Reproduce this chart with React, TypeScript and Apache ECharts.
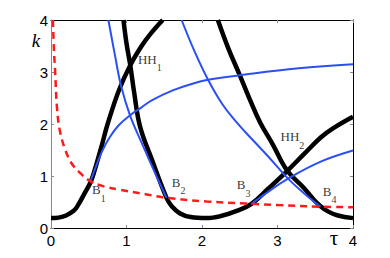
import React, { useEffect, useRef } from "react";
import * as echarts from "echarts";

// tau values / k values
const blackCurve1: number[][] = [[0,0.19],[0.1,0.2],[0.2,0.24],[0.3,0.33],[0.35,0.42],[0.45,0.68],[0.53,0.9],[0.6,1.22],[0.675,1.6],[0.75,2.0],[0.9,2.65],[1.05,3.13],[1.2,3.5],[1.31,3.72],[1.48,4.0]];
const blackCurve2: number[][] = [[0.96,4],[1.0,3.55],[1.05,3.13],[1.1,2.62],[1.18,1.95],[1.34,1.3],[1.53,0.58],[1.6,0.42],[1.71,0.28],[1.85,0.21],[2.06,0.19],[2.25,0.23],[2.46,0.33],[2.65,0.46],[2.88,0.76],[3.13,1.1],[3.35,1.42],[3.58,1.75],[3.75,1.93],[4,2.14]];
const blackCurve3: number[][] = [[2.21,4],[2.35,3.45],[2.5,2.94],[2.64,2.45],[2.77,2.03],[2.94,1.6],[3.13,1.1],[3.35,0.77],[3.46,0.58],[3.57,0.42],[3.68,0.31],[3.8,0.24],[4,0.19]];
const blueRise1: number[][] = [[0.52,0.89],[0.6,1.2],[0.675,1.47],[0.78,1.75],[0.9,1.98],[1.05,2.17],[1.2,2.32],[1.34,2.46],[1.62,2.65],[1.84,2.76],[2.08,2.85],[2.57,2.95],[3.28,3.07],[4,3.15]];
const blueDesc1: number[][] = [[0.76,4],[0.85,3.3],[0.93,2.72],[1.05,2.15],[1.2,1.64],[1.34,1.18],[1.53,0.58]];
const blueDesc2: number[][] = [[1.73,4],[1.9,3.4],[2.08,2.85],[2.27,2.38],[2.46,2.03],[2.57,1.85],[2.88,1.37],[3.14,0.95],[3.35,0.67],[3.57,0.41]];
const blueRise2: number[][] = [[2.65,0.46],[2.88,0.7],[3.14,0.95],[3.58,1.28],[4,1.49]];
const redDashed: number[][] = [[0.025,4],[0.04,3.4],[0.055,3.0],[0.08,2.3],[0.12,1.85],[0.19,1.5],[0.27,1.25],[0.37,1.08],[0.52,0.9],[0.7,0.8],[0.9,0.74],[1.25,0.65],[1.53,0.58],[2.06,0.51],[2.59,0.47],[3.01,0.44],[3.56,0.41],[4,0.4]];

const tickValues = [0, 1, 2, 3, 4];
const labelNames = ["HH", "HH", "B", "B", "B", "B"];
const labelSubs = ["1", "2", "1", "2", "3", "4"];
const labelTau = [1.152, 3.04, 0.543, 1.6, 2.46, 3.6];
const labelK = [3.18, 1.69, 0.67, 0.81, 0.76, 0.64];

export default function App() {
  const ref = useRef<HTMLDivElement>(null);
  useEffect(() => {
    if (!ref.current) return;
    const chart = echarts.init(ref.current, null, { renderer: "svg" });
    const tickStyle = { inside: true, length: 3, lineStyle: { color: "#888", width: 1 } };
    const labelFont = { fontSize: 15, color: "#000", fontFamily: "Liberation Sans" };
    const lineSeries = (data: number[][], color: string, width: number, z: number, dashed = false) => ({
      type: "line",
      data,
      showSymbol: false,
      symbol: "none",
      smooth: 0.4,
      clip: true,
      z,
      lineStyle: { color, width, type: dashed ? [7, 5] : "solid", cap: "butt" },
      emphasis: { disabled: true },
    });
    const blue = "#2c4ff5";
    chart.setOption({
      animation: false,
      grid: { left: 51, right: 37, top: 20, bottom: 30 },
      xAxis: [
        {
          type: "value", min: 0, max: 4, interval: 1, position: "bottom",
          axisLine: { show: true, onZero: false, lineStyle: { color: "#000", width: 1 } },
          axisTick: tickStyle,
          axisLabel: { ...labelFont, margin: 5, formatter: (v: number) => (tickValues.includes(v) ? String(v) : "") },
          splitLine: { show: false },
        },
        {
          type: "value", min: 0, max: 4, interval: 1, position: "top",
          axisLine: { show: true, onZero: false, lineStyle: { color: "#000", width: 1 } },
          axisTick: tickStyle, axisLabel: { show: false }, splitLine: { show: false },
        },
      ],
      yAxis: [
        {
          type: "value", min: 0, max: 4, interval: 1, position: "left",
          axisLine: { show: true, onZero: false, lineStyle: { color: "#888", width: 1 } },
          axisTick: tickStyle,
          axisLabel: { ...labelFont, margin: 3 },
          splitLine: { show: false },
        },
        {
          type: "value", min: 0, max: 4, interval: 1, position: "right",
          axisLine: { show: true, onZero: false, lineStyle: { color: "#000", width: 1 } },
          axisTick: tickStyle, axisLabel: { show: false }, splitLine: { show: false },
        },
      ],
      series: [
        lineSeries(blackCurve1, "#000", 4.5, 2),
        lineSeries(blackCurve2, "#000", 4.5, 2),
        lineSeries(blackCurve3, "#000", 4.5, 2),
        lineSeries(blueRise1, blue, 2, 3),
        lineSeries(blueDesc1, blue, 2, 3),
        lineSeries(blueDesc2, blue, 2, 3),
        lineSeries(blueRise2, blue, 2, 3),
        lineSeries(redDashed, "#ff1a1a", 2.5, 4, true),
        {
          type: "scatter",
          symbolSize: 0,
          z: 5,
          silent: true,
          data: labelTau.map((t, i) => ({ value: [t, labelK[i]], name: labelNames[i] + labelSubs[i] })),
          label: {
            show: true,
            position: "right",
            distance: 0,
            formatter: (p: any) => `{m|${labelNames[p.dataIndex]}}{s|${labelSubs[p.dataIndex]}}`,
            rich: {
              m: { fontSize: 13, fontFamily: "Liberation Serif", color: "#000", lineHeight: 20, verticalAlign: "top" },
              s: { fontSize: 10, fontFamily: "Liberation Serif", color: "#000", lineHeight: 10, verticalAlign: "bottom" },
            },
          },
        },
      ],
      graphic: [
        { type: "text", x: 36, y: 40, style: { text: "k", fontSize: 19, fontStyle: "italic", fontFamily: "Liberation Serif", fill: "#000", align: "center", verticalAlign: "middle" } },
        { type: "text", x: 334, y: 238, style: { text: "τ", fontSize: 21, fontFamily: "Liberation Serif", fill: "#000", align: "center", verticalAlign: "middle" } },
      ],
    });
    return () => chart.dispose();
  }, []);
  return <div ref={ref} style={{ width: 390, height: 258, position: "absolute", left: 0, top: 0 }} />;
}
